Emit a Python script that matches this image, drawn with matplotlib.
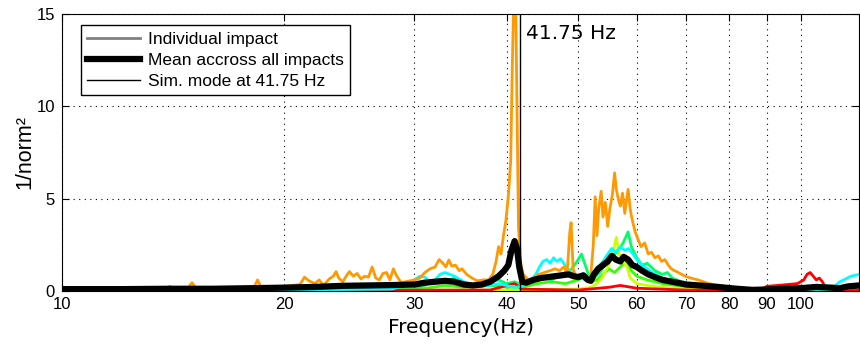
import matplotlib
matplotlib.use('Agg')
import matplotlib.pyplot as plt
from matplotlib.lines import Line2D

# individual impacts (freq in Hz, 1/norm^2)
orange_f = [10.0, 11.0, 12.0, 13.0, 13.8, 14.0, 14.2, 14.8, 15.0, 15.2, 16.0, 17.0, 17.5, 18.2, 18.4, 18.6,
            19.0, 19.5, 20.0, 20.5, 21.0, 21.3, 21.6, 22.0, 22.3, 22.6, 23.0, 23.3, 23.5, 23.7, 24.0, 24.3,
            24.5, 24.8, 25.1, 25.4, 25.7, 26.0, 26.3, 26.6, 26.9, 27.2, 27.5, 27.8, 28.1, 28.4, 28.8, 29.2,
            29.6, 30.0, 30.5, 31.0, 31.5, 32.0, 32.4, 32.8, 33.1, 33.4, 33.7, 34.1, 34.5, 34.8, 35.3, 35.9,
            36.5, 37.2, 37.8, 38.3, 38.7, 39.0, 39.3, 39.6, 39.9, 40.2, 40.5, 40.7, 40.9, 41.1, 41.3, 41.5,
            41.8, 42.1, 42.8, 43.5, 44.2, 45.0, 45.8, 46.5, 47.2, 47.8, 48.3, 48.7, 48.9, 49.2, 49.6, 50.2,
            50.8, 51.5, 52.0, 52.4, 52.7, 53.0, 53.3, 53.7, 54.0, 54.4, 54.8, 55.2, 55.6, 56.0, 56.3, 56.7,
            57.0, 57.4, 57.8, 58.1, 58.4, 58.8, 59.2, 59.7, 60.1, 60.8, 61.5, 62.2, 62.8, 63.5, 64.2, 64.8,
            65.5, 66.2, 66.8, 67.5, 68.3, 69.0, 69.8, 71.0, 72.6, 74.5, 76.0, 78.0, 81.0, 85.0, 90.0, 95.0,
            100.0, 105.0, 110.0, 115.0, 120.0]
orange_v = [0.05, 0.05, 0.06, 0.08, 0.1, 0.25, 0.08, 0.15, 0.45, 0.1, 0.1, 0.12, 0.15, 0.2, 0.6, 0.2,
            0.15, 0.2, 0.25, 0.3, 0.35, 0.75, 0.55, 0.4, 0.6, 0.3, 0.65, 0.8, 1.05, 0.7, 0.5, 0.85,
            1.05, 0.8, 0.95, 0.65, 0.8, 0.75, 1.3, 0.7, 0.6, 0.95, 1.0, 0.6, 1.2, 0.8, 0.45, 0.5,
            0.55, 0.6, 0.7, 1.0, 1.2, 1.3, 1.7, 1.5, 1.3, 1.68, 1.35, 1.4, 1.1, 1.2, 0.9, 0.7,
            0.55, 0.6, 0.6, 0.9, 1.6, 2.4, 2.0, 3.0, 3.8, 5.1, 7.0, 12.0, 16.0, 17.0, 10.0, 3.5,
            1.5, 0.9, 0.6, 0.7, 0.9, 1.0, 1.1, 1.2, 1.1, 1.3, 1.0, 3.2, 3.7, 1.2, 0.8, 0.7,
            0.8, 0.7, 0.9, 2.5, 5.1, 3.0, 4.5, 5.4, 4.0, 4.8, 3.5, 4.5, 5.2, 6.4, 5.5, 4.9,
            4.6, 5.3, 4.2, 4.9, 5.5, 4.4, 3.8, 3.2, 2.9, 2.4, 2.6, 2.0, 2.1, 1.8, 1.9, 1.6,
            1.7, 1.4, 1.2, 1.1, 1.0, 0.9, 0.8, 0.7, 0.6, 0.45, 0.35, 0.3, 0.15, 0.08, 0.08, 0.1,
            0.1, 0.12, 0.12, 0.15, 0.18]

cyan_f = [10, 20, 28, 29, 30, 30.5, 31, 31.5, 32, 32.5, 33, 33.5, 34, 35, 36, 37, 38, 39, 40, 41, 42, 43,
          43.8, 44.3, 44.8, 45.3, 45.8, 46.3, 46.8, 47.3, 47.8, 48.3, 49, 50, 51, 52, 53, 54, 54.8, 55.5,
          56.2, 57, 57.8, 58.5, 59.3, 60, 61, 62, 63, 65, 67, 70, 75, 80, 90, 100, 108, 110, 113, 117, 120]
cyan_v = [0.05, 0.05, 0.1, 0.3, 0.6, 0.8, 0.75, 0.5, 0.6, 0.9, 1.0, 0.9, 0.8, 0.5, 0.3, 0.25, 0.3, 0.4,
          0.3, 0.2, 0.25, 0.5, 0.9, 1.3, 1.6, 1.7, 1.5, 1.8, 1.6, 1.75, 1.5, 1.2, 1.0, 0.8, 0.6, 0.8, 1.2,
          1.6, 2.0, 2.3, 2.1, 2.4, 2.2, 2.3, 2.0, 1.7, 1.4, 1.2, 1.0, 0.7, 0.5, 0.3, 0.2, 0.1, 0.05, 0.05,
          0.08, 0.1, 0.5, 0.8, 0.9]

green_f = [10, 25, 30, 31, 32, 33, 34, 35, 36, 37, 38, 39, 40, 41, 42, 43, 44, 45, 46, 47, 48, 49, 49.8,
           50.5, 51, 51.6, 52.5, 53.5, 54.5, 55.5, 56.5, 57.5, 58.4, 59, 60, 61, 62, 63.5, 65, 66, 67, 69,
           71, 74, 77, 80, 85, 90, 100, 110, 115, 120]
green_v = [0.03, 0.05, 0.1, 0.3, 0.6, 0.5, 0.7, 0.4, 0.3, 0.35, 0.5, 0.6, 0.4, 0.5, 0.3, 0.5, 0.9, 0.7,
           0.6, 0.8, 1.0, 1.2, 1.6, 2.0, 1.5, 0.9, 0.7, 1.0, 1.5, 1.9, 2.1, 2.6, 3.2, 2.4, 1.8, 1.4, 1.5,
           1.1, 0.9, 1.0, 0.7, 0.5, 0.35, 0.3, 0.25, 0.2, 0.08, 0.05, 0.08, 0.1, 0.15, 0.2]

lime_f = [10, 30, 33, 35, 38, 40, 42, 44, 46, 48, 50, 51, 52, 53, 54, 55, 56, 57, 58, 59, 60, 62, 65, 70, 80, 120]
lime_v = [0.02, 0.05, 0.3, 0.2, 0.3, 0.2, 0.2, 0.4, 0.5, 0.4, 0.6, 0.8, 0.5, 0.6, 0.9, 1.2, 1.0, 1.3, 1.6, 1.1,
          0.8, 0.6, 0.4, 0.2, 0.1, 0.05]

yellow_f = [10, 40, 50, 52, 53, 54, 55, 55.8, 56.3, 56.8, 57.5, 58.2, 58.8, 60, 62, 65, 70, 120]
yellow_v = [0.02, 0.05, 0.1, 0.2, 0.4, 0.8, 1.4, 2.2, 2.9, 2.0, 1.6, 1.3, 0.7, 0.4, 0.3, 0.2, 0.1, 0.05]

red_f = [10, 38, 40, 41, 42, 50, 55, 57, 60, 70, 88, 90, 93, 96, 99, 101, 102, 103, 104, 105, 106, 107,
         108, 110, 120]
red_v = [0.02, 0.05, 0.3, 0.4, 0.1, 0.05, 0.2, 0.3, 0.15, 0.05, 0.05, 0.25, 0.3, 0.35, 0.4, 0.6, 0.9, 1.0,
         0.8, 0.6, 0.7, 0.5, 0.2, 0.1, 0.05]

mean_f = [10, 12, 14, 16, 18, 20, 22, 24, 26, 28, 30, 31, 32, 33, 34, 35, 36, 37, 38, 39, 39.7, 40.2,
          40.6, 41.0, 41.3, 41.6, 42.0, 42.5, 43.5, 44.5, 45.5, 46.5, 47.5, 48.5, 49.3, 50.0, 50.8, 51.5,
          52.0, 52.5, 53.2, 54.0, 54.8, 55.5, 56.2, 57.0, 57.6, 58.4, 59.2, 60.0, 61.0, 62.2, 63.5, 65.0,
          67.0, 70.0, 74, 78, 82, 86, 90, 95, 100, 105, 110, 113, 116, 120]
mean_v = [0.1, 0.1, 0.12, 0.12, 0.15, 0.18, 0.22, 0.28, 0.3, 0.32, 0.35, 0.45, 0.5, 0.55, 0.5, 0.35, 0.3,
          0.35, 0.5, 0.8, 1.1, 1.4, 2.2, 2.7, 2.3, 1.3, 0.5, 0.45, 0.6, 0.7, 0.75, 0.8, 0.85, 0.9, 0.8,
          0.75, 0.85, 0.6, 0.55, 0.9, 1.2, 1.4, 1.6, 1.9, 1.7, 1.6, 1.85, 1.7, 1.4, 1.3, 1.1, 0.9, 0.75,
          0.6, 0.5, 0.35, 0.28, 0.2, 0.12, 0.06, 0.08, 0.12, 0.15, 0.22, 0.18, 0.15, 0.25, 0.3]

sim_mode = 41.75
xticks = [10, 20, 30, 40, 50, 60, 70, 80, 90, 100]
yticks = [0, 5, 10, 15]

fig = plt.figure(figsize=(8.6, 3.46), dpi=100)
ax = fig.add_axes([0.072, 0.159, 0.927, 0.8006])

ax.plot(lime_f, lime_v, color='#33ff00', lw=2)
ax.plot(green_f, green_v, color='#00ff66', lw=2)
ax.plot(yellow_f, yellow_v, color='#ccff00', lw=2)
ax.plot(red_f, red_v, color='#ff0000', lw=2)
ax.plot(cyan_f, cyan_v, color='#00ffff', lw=2)
ax.plot(orange_f, orange_v, color='#ff9900', lw=2)
ax.plot(mean_f, mean_v, color='black', lw=4.5)
ax.plot([sim_mode, sim_mode], [0, 15], color='black', lw=1)
ax.text(42.5, 13.95, '41.75 Hz', fontsize=14.5, va='center', ha='left', family='DejaVu Sans')

ax.set_xscale('log')
ax.set_xlim(10, 120)
ax.set_ylim(0, 15)
ax.set_xticks(xticks)
ax.set_xticklabels([str(t) for t in xticks], family='Liberation Sans', fontsize=12)
ax.minorticks_off()
ax.set_yticks(yticks)
ax.set_yticklabels([str(t) for t in yticks], family='Liberation Sans', fontsize=12)
ax.tick_params(direction='in', top=True, right=True, length=5, width=0.8)
ax.tick_params(axis='x', pad=4.5)
ax.tick_params(axis='y', pad=5)
ax.grid(True, linestyle=(0, (1, 4)), color='black', lw=0.8)
ax.set_xlabel('Frequency(Hz)', fontsize=14.5, family='DejaVu Sans', labelpad=4)
ax.set_ylabel('1/norm²', fontsize=15.5, family='Liberation Sans', labelpad=0.5)

handles = [Line2D([], [], color='#808080', lw=2),
           Line2D([], [], color='black', lw=4.5),
           Line2D([], [], color='black', lw=1)]
labels = ['Individual impact', 'Mean accross all impacts', 'Sim. mode at 41.75 Hz']
leg = ax.legend(handles, labels, loc='upper left', bbox_to_anchor=(0.0135, 0.99),
                prop={'family': 'Liberation Sans', 'size': 12.5}, fancybox=False,
                edgecolor='black', framealpha=1, handlelength=3.0, labelspacing=0.35,
                borderpad=0.35, handletextpad=0.5)
leg.get_frame().set_linewidth(1)

fig.savefig('out.png', dpi=100)
